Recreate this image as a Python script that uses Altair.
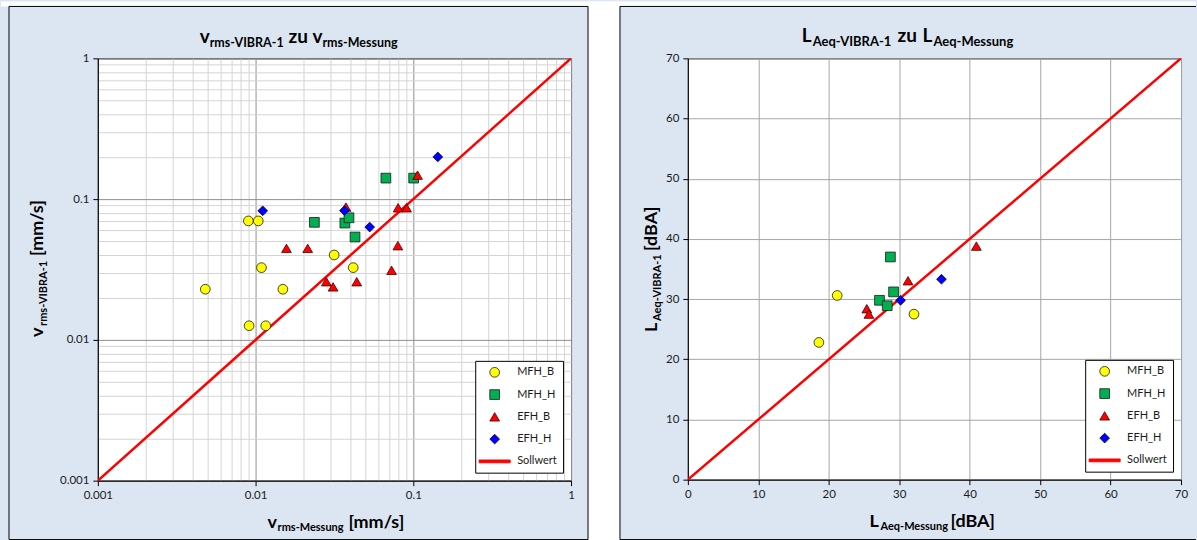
import altair as alt
import pandas as pd

FONT = "Lato"

# ---------------- data ----------------
series_names = ["MFH_B", "MFH_H", "EFH_B", "EFH_H", "Sollwert"]
fill_colors = ["#ffff00", "#00b050", "#ff0000", "#0000ff", "#ff0000"]
stroke_colors = ["#1a1a1a", "#1a1a1a", "#400000", "#000040", "#ff0000"]
# last entry: a short thick horizontal bar = the line symbol of "Sollwert" in the legend
shapes = ["circle", "square", "triangle-up", "diamond", "M-3.2,-0.3H3.2V0.3H-3.2Z"]
marker_sizes = [95, 95, 110, 70, 70]
marker_widths = [0.8, 0.8, 0.8, 0.8, 0.8]

# left: v_rms [mm/s]
v_mfh_b_x = [0.0048, 0.0090, 0.0104, 0.0109, 0.0149, 0.0091, 0.0116, 0.0315, 0.0416]
v_mfh_b_y = [0.0229, 0.0700, 0.0700, 0.0326, 0.0229, 0.0126, 0.0126, 0.0401, 0.0326]
v_mfh_h_x = [0.0236, 0.0670, 0.1005, 0.0368, 0.0391, 0.0427]
v_mfh_h_y = [0.0684, 0.1410, 0.1410, 0.0676, 0.0737, 0.0538]
v_efh_b_x = [0.0157, 0.0214, 0.0281, 0.0310, 0.0438, 0.0728, 0.0798, 0.0801, 0.0906, 0.1064, 0.0374]
v_efh_b_y = [0.0447, 0.0447, 0.0259, 0.0238, 0.0259, 0.0312, 0.0467, 0.0868, 0.0868, 0.1480, 0.0878]
v_efh_h_x = [0.0111, 0.0366, 0.0529, 0.1430]
v_efh_h_y = [0.0826, 0.0829, 0.0633, 0.1995]
v_soll = [0.001, 1.0]

# right: L_Aeq [dBA]
l_mfh_b_x = [21.2, 18.6, 32.1]
l_mfh_b_y = [30.6, 22.8, 27.5]
l_mfh_h_x = [28.75, 29.2, 27.2, 28.3]
l_mfh_h_y = [37.0, 31.2, 29.8, 28.9]
l_efh_b_x = [31.25, 25.4, 25.7, 40.95]
l_efh_b_y = [33.05, 28.4, 27.5, 38.8]
l_efh_h_x = [36.0, 30.2]
l_efh_h_y = [33.3, 29.8]
l_soll = [0, 70]

log_ticks = [round(m * 10.0 ** e, 10) for e in (-3, -2, -1) for m in range(1, 10)] + [1.0]
lin_ticks = [0, 10, 20, 30, 40, 50, 60, 70]


def points_df(groups):
    rows = []
    for name, xs, ys in groups:
        for xv, yv in zip(xs, ys):
            rows.append({"x": xv, "y": yv, "series": name})
    return pd.DataFrame(rows)


df_v = points_df([("MFH_B", v_mfh_b_x, v_mfh_b_y), ("MFH_H", v_mfh_h_x, v_mfh_h_y),
                  ("EFH_B", v_efh_b_x, v_efh_b_y), ("EFH_H", v_efh_h_x, v_efh_h_y)])
df_l = points_df([("MFH_B", l_mfh_b_x, l_mfh_b_y), ("MFH_H", l_mfh_h_x, l_mfh_h_y),
                  ("EFH_B", l_efh_b_x, l_efh_b_y), ("EFH_H", l_efh_h_x, l_efh_h_y)])
df_v["order"] = df_v["series"].map({n: i for i, n in enumerate(series_names)})
df_l["order"] = df_l["series"].map({n: i for i, n in enumerate(series_names)})

one = pd.DataFrame({"k": [0]})

W1, H1 = 474, 423   # left plot area
W2, H2 = 494, 422   # right plot area
OX1, OY1 = 97, 57   # page origin of left plot
OX2, OY2 = 688, 58  # page origin of right plot

LEG = alt.Legend(title=None)


def point_layer(df, xenc, yenc):
    return alt.Chart(df).mark_point(filled=True, opacity=1).encode(
        x=xenc, y=yenc,
        fill=alt.Fill("series:N", scale=alt.Scale(domain=series_names, range=fill_colors), legend=LEG),
        stroke=alt.Stroke("series:N", scale=alt.Scale(domain=series_names, range=stroke_colors), legend=LEG),
        shape=alt.Shape("series:N", scale=alt.Scale(domain=series_names, range=shapes), legend=LEG),
        size=alt.Size("series:N", scale=alt.Scale(domain=series_names, range=marker_sizes), legend=LEG),
        strokeWidth=alt.StrokeWidth("series:N", scale=alt.Scale(domain=series_names, range=marker_widths), legend=LEG),
        order=alt.Order("order:Q"),
    )


def txt(s, x, y, size, ox, oy, angle=0):
    return alt.Chart(one).mark_text(
        text=s, font=FONT, fontSize=size, fontWeight="bold", color="#000000",
        align="left", baseline="alphabetic", angle=angle
    ).encode(x=alt.value(x - ox), y=alt.value(y - oy))


def rect(x1, y1, x2, y2, ox, oy, fill=None, stroke=None, opacity=1.0):
    kw = {}
    if fill is not None:
        kw["fill"] = fill
    else:
        kw["fillOpacity"] = 0
    if stroke is not None:
        kw["stroke"] = stroke
        kw["strokeWidth"] = 1
    return alt.Chart(one).mark_rect(opacity=opacity, **kw).encode(
        x=alt.value(x1 - ox), x2=alt.value(x2 - ox), y=alt.value(y1 - oy), y2=alt.value(y2 - oy))


def rule(x1, y1, x2, y2, ox, oy):
    return alt.Chart(one).mark_rule(color="#000000", strokeWidth=1).encode(
        x=alt.value(x1 - ox), x2=alt.value(x2 - ox), y=alt.value(y1 - oy), y2=alt.value(y2 - oy))


is_major = "datum.value==0.001||datum.value==0.01||datum.value==0.1||datum.value==1"
log_label = "datum.value==0.001?'0.001':datum.value==0.01?'0.01':datum.value==0.1?'0.1':datum.value==1?'1':''"


def log_axis():
    return alt.Axis(
        title=None, values=log_ticks, labelExpr=log_label,
        gridColor={"condition": {"test": is_major, "value": "#8f8f8f"}, "value": "#d4d4d4"},
        tickColor={"condition": {"test": is_major, "value": "#000000"}, "value": "transparent"},
        tickSize=5, labelFont=FONT, labelFontSize=11.5, labelColor="#1a1a1a",
        domainColor="#000000", labelPadding=4, labelFlush=False, labelOverlap=False,
    )


def lin_axis():
    return alt.Axis(
        title=None, values=lin_ticks, gridColor="#a6a6a6", tickColor="#000000", tickSize=5,
        labelFont=FONT, labelFontSize=11.5, labelColor="#1a1a1a", domainColor="#000000",
        labelPadding=4, labelFlush=False, labelOverlap=False,
    )


# ---------------- left panel ----------------
lx = alt.X("x:Q", scale=alt.Scale(type="log", domain=[0.001, 1], nice=False), axis=log_axis())
ly = alt.Y("y:Q", scale=alt.Scale(type="log", domain=[0.001, 1], nice=False), axis=log_axis())

line_v = alt.Chart(pd.DataFrame({"x": v_soll, "y": v_soll})).mark_line(
    color="#ff0000", strokeWidth=2.5, clip=True).encode(x=alt.X("x:Q"), y=alt.Y("y:Q"))

left_layers = [
    rect(0, 0, 1197, 540, OX1, OY1, fill="#dce6f2", opacity=0),   # page extent
    rect(0, 0, 1197, 5, OX1, OY1, fill="#ffffff"),                 # top white strip
    rect(588, 0, 620, 540, OX1, OY1, fill="#ffffff"),              # gap between panels
    rect(8, 5, 588, 539, OX1, OY1, stroke="#000000"),              # left panel frame
    rule(620, 5, 1197, 5, OX1, OY1),
    rule(620, 5, 620, 539, OX1, OY1),
    rule(620, 539, 1197, 539, OX1, OY1),
    line_v,
    point_layer(df_v, lx, ly),
    txt("v", 199, 42, 19, OX1, OY1), txt("rms-VIBRA-1", 209, 46, 12.5, OX1, OY1),
    txt("zu", 288, 42, 19, OX1, OY1), txt("v", 312, 42, 19, OX1, OY1),
    txt("rms-Messung", 322, 46, 12.5, OX1, OY1),
    txt("v", 267, 527, 18, OX1, OY1), txt("rms-Messung", 277, 530, 11, OX1, OY1),
    txt("[mm/s]", 348, 527, 18, OX1, OY1),
    txt("v", 42, 336, 18, OX1, OY1, angle=270), txt("rms-VIBRA-1", 46, 325, 11, OX1, OY1, angle=270),
    txt("[mm/s]", 42, 255, 18, OX1, OY1, angle=270),
]
left = alt.layer(*left_layers).properties(width=W1, height=H1)

# ---------------- right panel ----------------
rx = alt.X("x:Q", scale=alt.Scale(domain=[0, 70], nice=False), axis=lin_axis())
ry = alt.Y("y:Q", scale=alt.Scale(domain=[0, 70], nice=False), axis=lin_axis())

line_l = alt.Chart(pd.DataFrame({"x": l_soll, "y": l_soll})).mark_line(
    color="#ff0000", strokeWidth=2.5, clip=True).encode(x=alt.X("x:Q"), y=alt.Y("y:Q"))

right_layers = [
    line_l,
    point_layer(df_l, rx, ry),
    txt("L", 802, 42, 19, OX2, OY2), txt("Aeq-VIBRA-1", 813, 46, 13, OX2, OY2),
    txt("zu", 898, 42, 19, OX2, OY2), txt("L", 923, 42, 19, OX2, OY2),
    txt("Aeq-Messung", 934, 46, 13, OX2, OY2),
    txt("L", 870, 527, 18, OX2, OY2), txt("Aeq-Messung", 881, 530, 11, OX2, OY2),
    txt("[dBA]", 951, 527, 18, OX2, OY2),
    txt("L", 657, 332, 18, OX2, OY2, angle=270), txt("Aeq-VIBRA-1", 661, 321, 11, OX2, OY2, angle=270),
    txt("[dBA]", 657, 251, 18, OX2, OY2, angle=270),
]
right = alt.layer(*right_layers).properties(width=W2, height=H2)

chans = dict(fill="independent", stroke="independent", shape="independent",
             size="independent", strokeWidth="independent")

chart = alt.hconcat(left, right, spacing=OX2 - (OX1 + W1), bounds="flush").resolve_scale(
    **chans).resolve_legend(**chans).properties(
    padding=0, background="#dce6f2"
).configure_view(
    fill="#ffffff", stroke="#000000", strokeWidth=1
).configure_legend(
    orient="bottom-right", offset=8, fillColor="#ffffff", strokeColor="#000000",
    padding=6, rowPadding=9.3, labelFont=FONT, labelFontSize=11, labelColor="#1a1a1a",
    labelOffset=17, symbolOffset=8, symbolStrokeWidth=0.8,
)

chart.save("out.html", embed_options={"renderer": "svg", "actions": False})
